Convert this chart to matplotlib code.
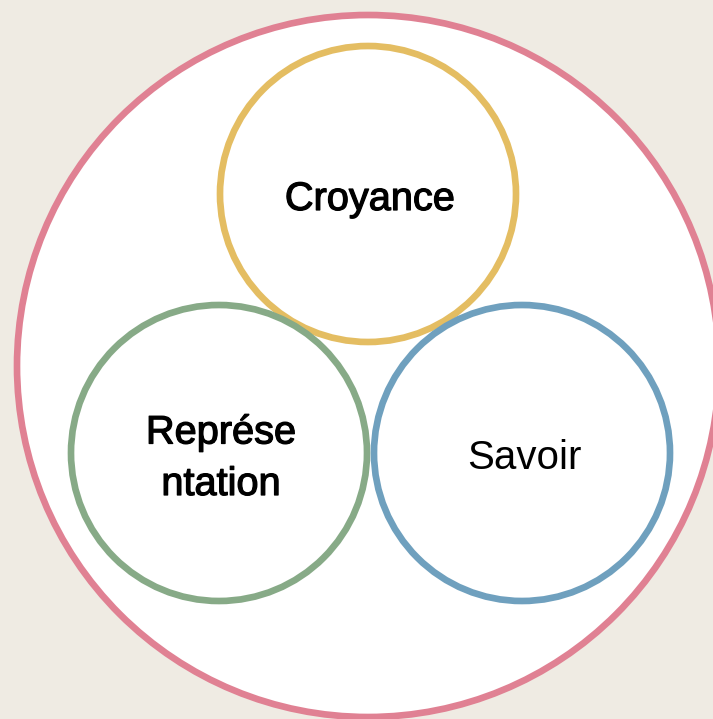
import matplotlib
matplotlib.use("Agg")
import matplotlib.pyplot as plt
from matplotlib.patches import Circle
import matplotlib.patheffects as pe

labels = ["Croyance", "Représe\nntation", "Savoir"]
weights = ["bold", "bold", "normal"]
colors = ["#e4bd62", "#87aa87", "#6fa0be"]
outer_color = "#e08193"
bg = "#efebe3"

W, H = 713, 719
fig = plt.figure(figsize=(W / 100, H / 100), dpi=100)
fig.patch.set_facecolor(bg)
ax = fig.add_axes([0, 0, 1, 1])
ax.set_xlim(0, W)
ax.set_ylim(H, 0)
ax.set_aspect("equal")
ax.axis("off")

# outer circle
ax.add_patch(Circle((368, 366), 351, facecolor="white", edgecolor=outer_color, lw=4.8))

centers = [(368, 194), (219, 453), (522, 453)]
r = 148
for (cx, cy), lab, c, w in zip(centers, labels, colors, weights):
    ax.add_patch(Circle((cx, cy), r, facecolor="none", edgecolor=c, lw=4.8))
    ax.text(cx + 2, cy + 5, lab, ha="center", va="center", fontsize=28.6 if w == "bold" else 29,
            family="Liberation Sans", weight="normal", color="black",
            linespacing=1.45, multialignment="center",
            path_effects=[pe.withStroke(linewidth=0.9, foreground="black")] if w == "bold" else None)

fig.savefig("out.png", dpi=100, facecolor=bg)
